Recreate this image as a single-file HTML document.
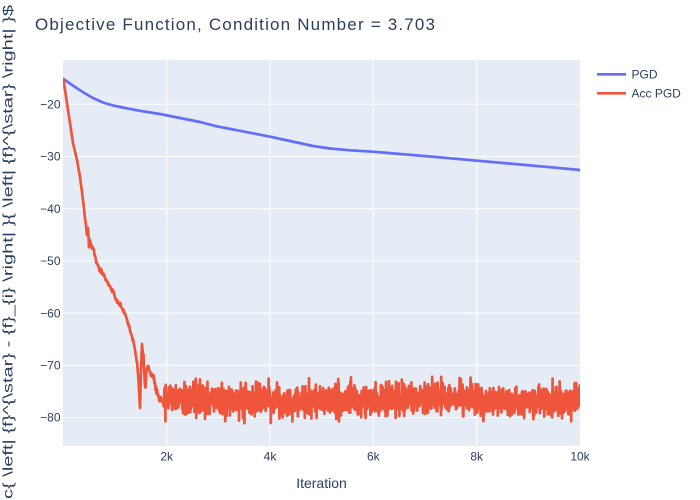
<!DOCTYPE html>
<html>
<head>
<meta charset="utf-8">
<style>
  html, body { margin: 0; padding: 0; background: #ffffff; }
  body { width: 700px; height: 500px; overflow: hidden; }
  svg { display: block; font-family: "Liberation Sans", sans-serif; overflow: hidden; }
  .tick { font-size: 12px; fill: #2a3f5f; }
</style>
</head>
<body>
<svg id="chart" width="700" height="500" viewBox="0 0 700 500" xmlns="http://www.w3.org/2000/svg">
  <rect x="0" y="0" width="700" height="500" fill="#ffffff"/>
  <!-- plot area -->
  <rect x="63" y="60" width="517" height="386" fill="#E5ECF6"/>
  <g stroke="#ffffff" stroke-width="1">
    <line x1="166.7" y1="60" x2="166.7" y2="446"/>
    <line x1="270" y1="60" x2="270" y2="446"/>
    <line x1="373.3" y1="60" x2="373.3" y2="446"/>
    <line x1="476.7" y1="60" x2="476.7" y2="446"/>
    <line x1="63" y1="104.3" x2="580" y2="104.3"/>
    <line x1="63" y1="156.5" x2="580" y2="156.5"/>
    <line x1="63" y1="208.7" x2="580" y2="208.7"/>
    <line x1="63" y1="260.9" x2="580" y2="260.9"/>
    <line x1="63" y1="313.1" x2="580" y2="313.1"/>
    <line x1="63" y1="365.3" x2="580" y2="365.3"/>
    <line x1="63" y1="417.5" x2="580" y2="417.5"/>
  </g>

  <defs>
    <clipPath id="pc"><rect x="63" y="60" width="517" height="386"/></clipPath>
  </defs>
  <g clip-path="url(#pc)">
    <polyline id="pgd" fill="none" stroke="#636efa" stroke-width="2.7" stroke-linejoin="round" stroke-linecap="round"
      points="63.4,79 70,83.5 78,89 86,94 93,98 103,102.5 113,105.5 125,108 140,110.8 160,114 180,118 200,122 216.7,126.3 240,130.8 270,136.7 290,141 313,146 330,148.5 350,150.3 373,151.7 400,154 430,156.5 477,160.7 520,164.5 550,167.2 580,170"/>
    <polyline id="acc" fill="none" stroke="#EF553B" stroke-width="2.7" stroke-linejoin="round" stroke-linecap="round" points=""/>
  </g>

  <!-- y tick labels -->
  <g class="tick" text-anchor="end">
    <text x="60.5" y="108.5">−20</text>
    <text x="60.5" y="160.7">−30</text>
    <text x="60.5" y="212.9">−40</text>
    <text x="60.5" y="265.1">−50</text>
    <text x="60.5" y="317.3">−60</text>
    <text x="60.5" y="369.5">−70</text>
    <text x="60.5" y="421.7">−80</text>
  </g>
  <!-- x tick labels -->
  <g class="tick" text-anchor="middle">
    <text x="166.7" y="460.5">2k</text>
    <text x="270" y="460.5">4k</text>
    <text x="373.3" y="460.5">6k</text>
    <text x="476.7" y="460.5">8k</text>
    <text x="580" y="460.5">10k</text>
  </g>

  <!-- axis titles -->
  <text x="321.5" y="488" text-anchor="middle" font-size="14" fill="#2a3f5f">Iteration</text>
  <text transform="translate(12.5,499) rotate(-90)" x="0" y="0" font-size="14" fill="#2a3f5f" textLength="494" lengthAdjust="spacingAndGlyphs">c{ \left| {f}^{\star} - {f}_{i} \right| }{ \left| {f}^{\star} \right| }$</text>

  <!-- title -->
  <text x="35" y="30" font-size="17" fill="#2a3f5f" textLength="400" lengthAdjust="spacing">Objective Function, Condition Number = 3.703</text>

  <!-- legend -->
  <line x1="597" y1="74.3" x2="626" y2="74.3" stroke="#636efa" stroke-width="2.7"/>
  <text x="631.5" y="78.5" font-size="12" fill="#2a3f5f">PGD</text>
  <line x1="597" y1="93.3" x2="626" y2="93.3" stroke="#EF553B" stroke-width="2.7"/>
  <text x="631.5" y="97.5" font-size="12" fill="#2a3f5f">Acc PGD</text>
</svg>
<script>
(function(){
  var seed = 12345;
  function rnd(){ seed |= 0; seed = seed + 0x6D2B79F5 | 0; var t = Math.imul(seed ^ seed >>> 15, 1 | seed); t = t + Math.imul(t ^ t >>> 7, 61 | t) ^ t; return ((t ^ t >>> 14) >>> 0) / 4294967296; }
  function gauss(){ var u = rnd() || 1e-9, v = rnd(); return Math.sqrt(-2*Math.log(u))*Math.cos(2*Math.PI*v); }
  var anchors = [[63.4,79],[68,110],[73,143],[77,160],[80,177],[83,200],[86,226],[87,235],[88,228],[89,245],[90,240],[91,246],[93,247],[96,261],[99,268],[104,276],[108,283],[112,290],[117,300],[122,308],[126,316],[129,325],[132,336],[135,350],[137,362],[138.5,380],[140,408],[141,370],[142,344],[143.5,360],[145,388],[146.5,372],[148,366],[150,372],[152,374],[154,380],[156,388],[158,396],[161,402],[164,402]];
  var pts = [];
  for (var i = 0; i < anchors.length - 1; i++) {
    var a = anchors[i], b = anchors[i+1];
    var dx = b[0] - a[0];
    var n = Math.max(1, Math.round(dx / 0.5));
    for (var k = 0; k < n; k++) {
      var t = k / n;
      var x = a[0] + dx * t, y = a[1] + (b[1] - a[1]) * t;
      var amp = (x > 84 && x < 137) ? 1.2 : (x >= 143 && x < 164 ? 2.5 : 0);
      pts.push([x, y + amp * gauss()]);
    }
  }
  for (var x = 164; x <= 580.5; x += 0.2) {
    var c = 400 + 1.2 * Math.sin(x / 37) + 0.8 * Math.sin(x / 11);
    var g = gauss() * 7.6;
    if (g > 23) g = 23; if (g < -23) g = -23;
    pts.push([x, c + g]);
  }
  var s = pts.map(function(p){ return p[0].toFixed(2) + "," + p[1].toFixed(2); }).join(" ");
  document.getElementById("acc").setAttribute("points", s);
})();
</script>
</body>
</html>
